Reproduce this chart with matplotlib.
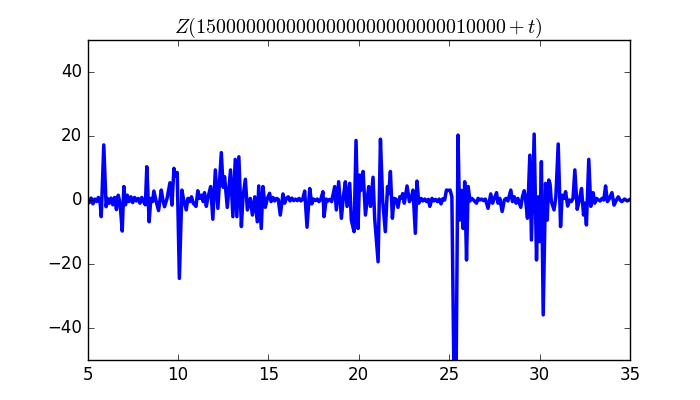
# Z(t) on a short window, redrawn from a screenshot
import numpy as np
import matplotlib
matplotlib.use('Agg')
import matplotlib.pyplot as plt

# Offset shown in the title
offset = '15' + '0' * 24 + '10000'

# Line vertices (t, Z)
t = [5.0, 5.1, 5.2, 5.3, 5.4, 5.5, 5.6, 5.7, 5.76, 5.9, 6.03, 6.1, 6.2, 6.3, 6.4, 6.5, 6.6, 6.7, 6.8,
     6.92, 7.01, 7.1, 7.2, 7.3, 7.4, 7.5, 7.6, 7.7, 7.8, 7.9, 8.0, 8.1, 8.2, 8.28, 8.41, 8.5, 8.6,
     8.67, 8.8, 8.93, 9.08, 9.17, 9.26, 9.4, 9.56, 9.67, 9.78, 9.85, 9.96, 10.08, 10.22, 10.3, 10.46,
     10.55, 10.65, 10.75, 10.85, 11.0, 11.1, 11.2, 11.3, 11.4, 11.47, 11.57, 11.65, 11.81, 11.93,
     12.07, 12.21, 12.40, 12.50, 12.58, 12.73, 12.91, 13.04, 13.17, 13.26, 13.37, 13.51, 13.6, 13.73,
     13.84, 14.0, 14.12, 14.25, 14.39, 14.47, 14.61, 14.70, 14.83, 14.95, 15.07, 15.15, 15.25, 15.35,
     15.45, 15.55, 15.66, 15.81, 15.9, 16.0, 16.1, 16.2, 16.3, 16.4, 16.5, 16.6, 16.7, 16.8, 16.9,
     17.01, 17.14, 17.29, 17.4, 17.5, 17.6, 17.7, 17.8, 17.9, 18.02, 18.08, 18.2, 18.3, 18.4, 18.5,
     18.67, 18.76, 18.89, 19.04, 19.15, 19.26, 19.35, 19.50, 19.59, 19.74, 19.85, 19.96, 20.05, 20.12,
     20.24, 20.37, 20.55, 20.65, 20.79, 20.88, 21.07, 21.20, 21.32, 21.47, 21.59, 21.66, 21.75, 21.86,
     21.95, 22.05, 22.17, 22.27, 22.35, 22.43, 22.52, 22.67, 22.8, 22.9, 23.0, 23.13, 23.22, 23.32,
     23.45, 23.55, 23.65, 23.75, 23.85, 23.93, 24.05, 24.15, 24.25, 24.35, 24.45, 24.55, 24.65, 24.75,
     24.85, 24.95, 25.05, 25.15, 25.27, 25.38, 25.49, 25.58, 25.67, 25.77, 25.86, 25.96, 26.05, 26.15,
     26.25, 26.35, 26.51, 26.6, 26.7, 26.8, 26.9, 27.0, 27.15, 27.30, 27.4, 27.5, 27.62, 27.7, 27.8,
     27.93, 28.05, 28.15, 28.25, 28.41, 28.5, 28.6, 28.7, 28.8, 28.96, 29.05, 29.15, 29.22, 29.33,
     29.46, 29.55, 29.70, 29.83, 29.92, 30.01, 30.10, 30.20, 30.33, 30.42, 30.51, 30.58, 30.65, 30.80,
     30.9, 31.03, 31.16, 31.25, 31.35, 31.44, 31.55, 31.65, 31.75, 31.85, 31.95, 32.08, 32.2, 32.32,
     32.43, 32.5, 32.59, 32.72, 32.83, 32.96, 33.05, 33.15, 33.25, 33.35, 33.45, 33.55, 33.65, 33.75,
     33.85, 34.0, 34.12, 34.25, 34.35, 34.45, 34.55, 34.7, 34.85, 35.0]
z = [0.5, -0.8, 0.6, -1.2, 0.3, -0.5, 0.8, -1.0, -5.2, 17.2, -2.1, 0.5, -1.0, 0.6, -1.5, 0.8, -3.0, 1.5, -1.0,
     -9.7, 4.2, -1.5, 1.5, -0.5, 1.0, -0.8, 0.8, -0.3, 0.5, -1.0, 0.8, -0.5, -1.5, 10.4, -6.8, 0.5, -0.5,
     2.8, -0.5, -3.3, 3.1, 0.0, -2.1, 0.5, 5.4, -1.6, 9.9, 7.5, 8.6, -24.5, 3.1, 0.5, -3.1,
     0.5, -0.5, 1.0, -1.0, -2.0, 2.9, 0.5, 1.5, -0.5, 2.3, -2.0, 0.5, 4.2, -6.0,
     9.4, -2.6, 14.8, 4.0, 7.3, -2.3, 9.4, -5.2, 12.7, -5.2, 13.5, -8.3, 1.0, 6.5,
     -3.1, 0.5, -4.7, 1.0, -6.8, 4.4, -8.9, 4.2, -2.3, 0.5, 2.1, -0.5, 0.8, -0.3,
     0.5, 0.2, -4.7, 1.9, -1.0, 0.5, 1.0, -0.3, 0.6, -0.2, 0.3, -0.2, 0.5, -0.3, 0.3,
     2.8, -8.5, 3.6, -1.2, 0.3, -0.2, 0.3, -0.5, 0.2, 2.6, -5.2, 0.3, -0.3, 0.2, -0.5,
     4.2, -3.1, 5.7, -5.7, 1.0, 5.7, -2.0, 5.2, -6.3, -9.9, 18.6, -8.9, 7.8, 3.0,
     8.9, -4.7, 4.2, -2.0, 7.1, -5.7, -19.3, 19.0, 0.0, -9.9, 4.2, 2.0, 8.9, -5.7,
     0.5, 0.3, -2.3, 1.0, 0.5, 2.0, -1.0, 4.4, -0.5, 0.5, 3.1, -10.4, 5.9, -1.0,
     0.5, -0.3, 0.3, -0.5, 0.2, -2.0, 0.5, -0.3, 0.2, -0.5, 0.3, -1.2, 0.4, 0.0,
     3.1, 3.0, 3.1, 1.0, -58.0, -58.0, 20.3, -6.3, 3.0, -8.9, 5.7, -18.75, 4.2, -0.3,
     0.5, 0.0, -1.0, 0.5, 0.0, 0.3, -0.2, 0.3, -2.6, 1.9, -1.0, 0.5, 2.3, -1.0, 0.5,
     -3.6, 0.0, 0.5, -0.3, 3.1, -0.5, 1.0, -1.0, 0.5, -2.3, 1.0, 2.9, 0.5, -5.7,
     14.0, -12.5, 20.6, -18.75, 1.0, -13.0, 12.0, -35.9, 5.2, -6.3, 6.25, 5.0, -0.5, -3.1,
     1.0, 17.5, -8.3, 1.5, 0.5, 2.6, -1.9, 0.0, -0.5, 0.5, 9.4, -2.9, 0.0, 3.6,
     -4.7, -1.0, -7.8, 12.7, -2.0, 2.3, -1.0, 0.5, 0.0, -0.3, 0.5, 0.0, 4.4, -0.5,
     0.3, 2.3, -1.6, 0.0, 1.0, 0.0, -0.5, 0.3, -0.3, 0.2]

plt.style.use('classic')
plt.rcParams['mathtext.fontset'] = 'cm'

fig = plt.figure(figsize=(7, 4), dpi=100, facecolor='white')
ax = fig.add_subplot(111)
ax.plot(t, z, color='b', linewidth=2.5)
ax.set_xlim(5, 35)
ax.set_ylim(-50, 50)
ax.set_xticks([5, 10, 15, 20, 25, 30, 35])
ax.set_yticks([-40, -20, 0, 20, 40])
ax.set_title(r'$Z(' + offset + r'+t)$')

fig.savefig('out.png', dpi=100, facecolor='white')
